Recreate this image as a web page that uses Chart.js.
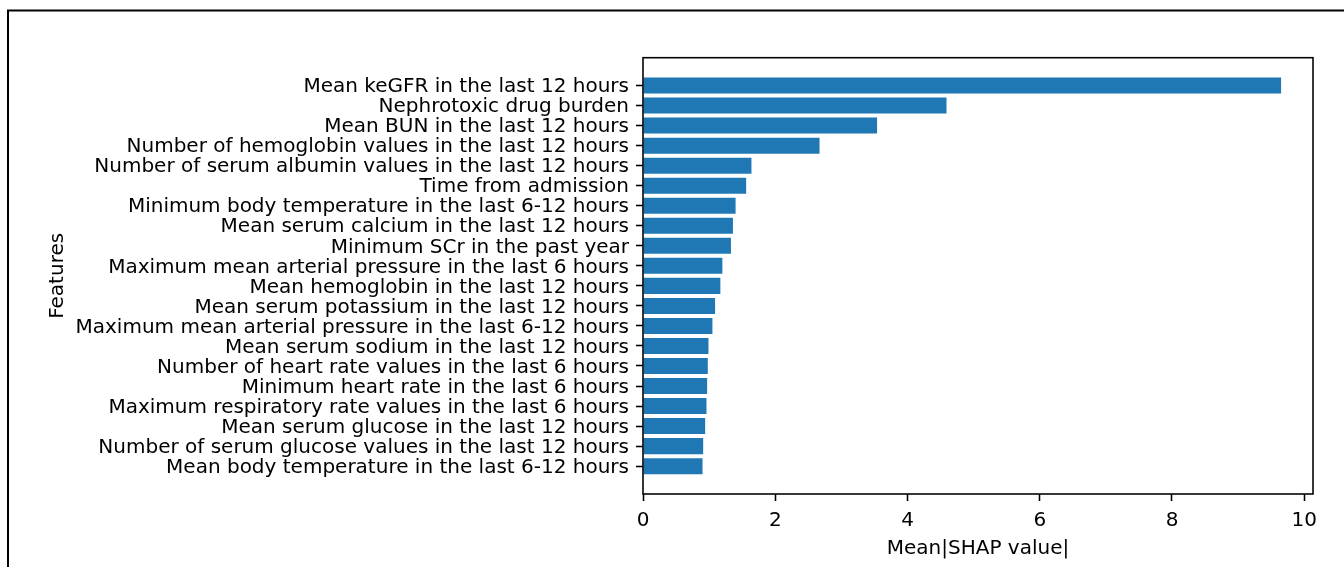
<!DOCTYPE html>
<html>
<head>
<meta charset="utf-8">
<title>Mean |SHAP value| by feature</title>
<script src="https://cdn.jsdelivr.net/npm/chart.js@4/dist/chart.umd.min.js"></script>
<style>
  html, body { margin: 0; padding: 0; background: #ffffff; }
  #wrap { width: 1344px; height: 567px; position: relative; }
  canvas { display: block; }
</style>
</head>
<body>
<div id="wrap"><canvas id="chart" width="1344" height="567"></canvas></div>
<script>
// Features, ordered from most to least important (top to bottom)
const features = [
  "Mean keGFR in the last 12 hours",
  "Nephrotoxic drug burden",
  "Mean BUN in the last 12 hours",
  "Number of hemoglobin values in the last 12 hours",
  "Number of serum albumin values in the last 12 hours",
  "Time from admission",
  "Minimum body temperature in the last 6-12 hours",
  "Mean serum calcium in the last 12 hours",
  "Minimum SCr in the past year",
  "Maximum mean arterial pressure in the last 6 hours",
  "Mean hemoglobin in the last 12 hours",
  "Mean serum potassium in the last 12 hours",
  "Maximum mean arterial pressure in the last 6-12 hours",
  "Mean serum sodium in the last 12 hours",
  "Number of heart rate values in the last 6 hours",
  "Minimum heart rate in the last 6 hours",
  "Maximum respiratory rate values in the last 6 hours",
  "Mean serum glucose in the last 12 hours",
  "Number of serum glucose values in the last 12 hours",
  "Mean body temperature in the last 6-12 hours"
];

// Mean |SHAP value| for each feature
const meanShap = [
  9.65, 4.59, 3.54, 2.67, 1.64, 1.56, 1.40, 1.36, 1.33, 1.20,
  1.17, 1.09, 1.05, 0.99, 0.98, 0.97, 0.96, 0.94, 0.91, 0.90
];

// X axis tick values
const xTicks = [0, 2, 4, 6, 8, 10];

const xTitle = "Mean|SHAP value|";
const yTitle = "Features";

// Axis limits with a 5% margin, like a standard horizontal bar plot
const barHeight = 0.8;
const yLo = -barHeight / 2, yHi = features.length - 1 + barHeight / 2;
const yPad = 0.05 * (yHi - yLo);
const xMax = Math.max(...meanShap) * 1.05;

const FONT = "'DejaVu Sans', 'Liberation Sans', sans-serif";
const FS = 20;
const LW = 1.57;

// Page frame (top and left rules)
const framePlugin = {
  id: 'pageFrame',
  beforeDraw(chart) {
    const ctx = chart.ctx;
    ctx.save();
    ctx.fillStyle = '#ffffff';
    ctx.fillRect(0, 0, chart.width, chart.height);
    ctx.strokeStyle = '#000000';
    ctx.lineWidth = 2;
    ctx.beginPath();
    ctx.moveTo(7, 10.5);
    ctx.lineTo(chart.width, 10.5);
    ctx.moveTo(8, 9.5);
    ctx.lineTo(8, chart.height);
    ctx.stroke();
    ctx.restore();
  }
};

// Axes box drawn over the bars
const spinePlugin = {
  id: 'spines',
  afterDatasetsDraw(chart) {
    const a = chart.chartArea;
    const ctx = chart.ctx;
    ctx.save();
    ctx.strokeStyle = '#000000';
    ctx.lineWidth = LW;
    ctx.strokeRect(a.left, a.top, a.right - a.left, a.bottom - a.top);
    ctx.restore();
  }
};

new Chart(document.getElementById('chart'), {
  type: 'bar',
  data: {
    datasets: [{
      data: meanShap.map((v, i) => ({ x: v, y: i })),
      backgroundColor: '#1f77b4',
      borderWidth: 0,
      categoryPercentage: 1.0,
      barPercentage: barHeight
    }]
  },
  options: {
    indexAxis: 'y',
    responsive: false,
    devicePixelRatio: 1,
    animation: false,
    layout: { padding: { left: 42, right: 31, top: 57.7, bottom: 2 } },
    plugins: {
      legend: { display: false },
      tooltip: { enabled: false }
    },
    scales: {
      x: {
        type: 'linear',
        position: 'bottom',
        min: 0,
        max: xMax,
        afterBuildTicks(scale) { scale.ticks = xTicks.map(v => ({ value: v })); },
        afterFit(scale) { scale.height = 567 - 2 - 494; },
        grid: {
          display: true, drawOnChartArea: false, drawTicks: true,
          tickLength: 7, tickWidth: LW, tickColor: '#000000'
        },
        border: { display: false },
        ticks: {
          color: '#000000', padding: 8, maxRotation: 0, autoSkip: false,
          font: { family: FONT, size: FS },
          callback: (v) => String(v)
        },
        title: {
          display: true, text: xTitle, color: '#000000',
          font: { family: FONT, size: FS }, padding: { top: 4, bottom: 4 }
        }
      },
      y: {
        type: 'linear',
        position: 'left',
        reverse: true,
        offset: false,
        min: yLo - yPad,
        max: yHi + yPad,
        afterBuildTicks(scale) { scale.ticks = features.map((_, i) => ({ value: i })); },
        afterFit(scale) { scale.width = 643 - 42; },
        grid: {
          display: true, offset: false, drawOnChartArea: false, drawTicks: true,
          tickLength: 7, tickWidth: LW, tickColor: '#000000'
        },
        border: { display: false },
        ticks: {
          color: '#000000', padding: 7, autoSkip: false, labelOffset: 1.5,
          font: { family: FONT, size: FS },
          callback: (v) => features[v] !== undefined ? features[v] : ''
        },
        title: {
          display: true, text: yTitle, color: '#000000',
          font: { family: FONT, size: FS }, padding: { top: 4, bottom: 4 }
        }
      }
    }
  },
  plugins: [framePlugin, spinePlugin]
});
</script>
</body>
</html>
